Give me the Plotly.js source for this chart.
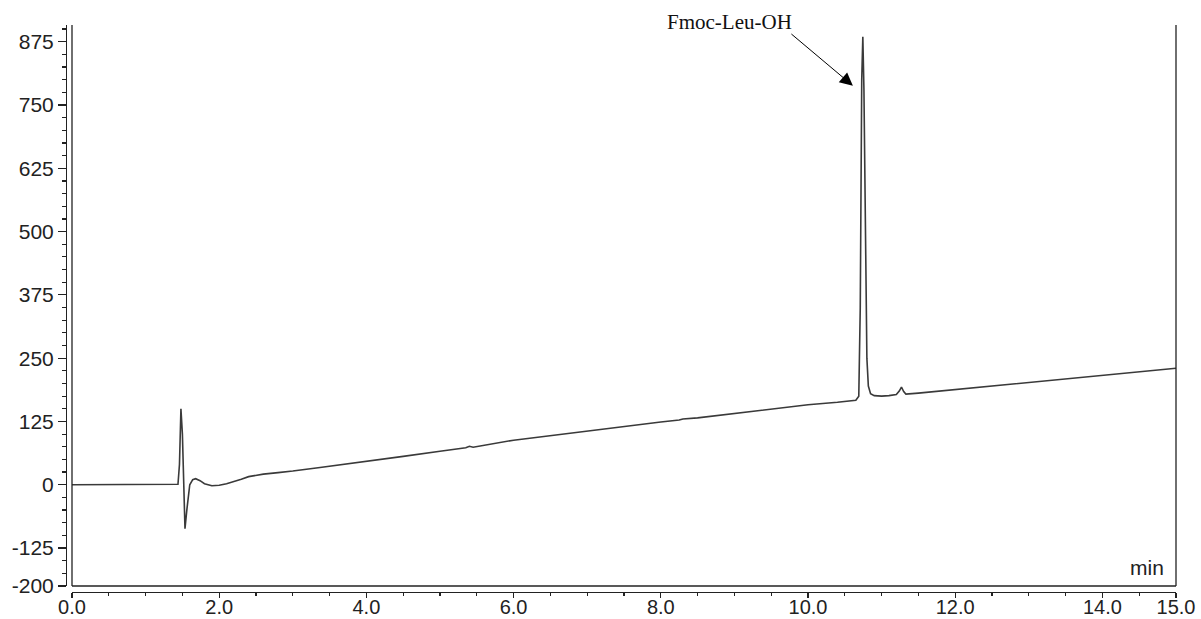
<!DOCTYPE html>
<html>
<head>
<meta charset="utf-8">
<script src="https://cdn.plot.ly/plotly-3.0.1.min.js"></script>
<style>html,body{margin:0;padding:0;background:#fff;}#chart{width:1201px;height:619px;}</style>
</head>
<body>
<div id="chart"></div>
<script>
// Retention time (min)
const timeMin = [0.0, 0.5, 1.0, 1.3, 1.44, 1.46, 1.48, 1.50, 1.52, 1.535, 1.56, 1.60, 1.64, 1.68, 1.74, 1.80, 1.90, 2.00, 2.10, 2.20, 2.30, 2.40, 2.50, 2.60, 2.80, 3.00, 3.37, 4.0, 4.5, 5.0, 5.35, 5.40, 5.45, 6.0, 6.5, 7.0, 7.5, 8.0, 8.25, 8.3, 8.5, 9.0, 9.5, 10.0, 10.4, 10.65, 10.69, 10.71, 10.73, 10.745, 10.76, 10.78, 10.80, 10.82, 10.85, 10.9, 11.0, 11.1, 11.2, 11.24, 11.27, 11.30, 11.33, 11.5, 12.0, 12.5, 13.0, 13.5, 14.0, 14.5, 15.0];
// Detector signal (mAU)
const signal = [0, 0.5, 0, 0, 1, 40, 150, 100, -30, -87, -50, 0, 10, 12, 8, 2, -2, -1, 2, 6, 11, 16, 19, 21, 24, 27, 34, 47, 56, 66, 73, 76, 74, 88, 97, 107, 115, 124, 128, 130, 132, 141, 150, 158, 163, 167, 175, 350, 800, 885, 780, 450, 250, 195, 180, 176, 175, 176, 178, 185, 193, 184, 179, 181, 188, 195, 203, 210, 216, 223, 230];
// Axis ticks
const xTickVals = [0, 2, 4, 6, 8, 10, 12, 14, 15];
const xTickText = ["0.0", "2.0", "4.0", "6.0", "8.0", "10.0", "12.0", "14.0", "15.0"];
const yTickVals = [-200, -125, 0, 125, 250, 375, 500, 625, 750, 875];
const yTickText = ["-200", "-125", "0", "125", "250", "375", "500", "625", "750", "875"];
// Peak label
const peakLabel = "Fmoc-Leu-OH";
const peakArrowTip = [10.61, 788];
const labelPos = [8.94];

const W = 1201 - 66 - 25;
const H = 619 - 25 - 27;
const tickFont = {family: "Liberation Sans, Arial, sans-serif", size: 21, color: "#222"};
const xTickFont = {family: "Liberation Sans, Arial, sans-serif", size: 20, color: "#222"};

const trace = {
  x: timeMin, y: signal, type: "scatter", mode: "lines",
  line: {color: "#3a3a3a", width: 1.6}, hoverinfo: "skip"
};

const frameLine = {color: "#222", width: 1.3};
const layout = {
  width: 1201, height: 619,
  margin: {l: 66, r: 25, t: 25, b: 27, pad: 0},
  paper_bgcolor: "#fff", plot_bgcolor: "#fff",
  showlegend: false,
  xaxis: {
    domain: [6 / W, 1], anchor: "free", position: 0,
    range: [0, 15], showgrid: false, zeroline: false,
    showline: true, linecolor: "#222", linewidth: 1.3,
    ticks: "outside", ticklen: 5, tickcolor: "#222", tickwidth: 1.2,
    tickmode: "array", tickvals: xTickVals, ticktext: xTickText,
    tickfont: xTickFont, ticklabelstandoff: -8,
    minor: {dtick: 0.5, tick0: 0, ticks: "outside", ticklen: 3, tickcolor: "#222", tickwidth: 1.2, showgrid: false}
  },
  yaxis: {
    domain: [6 / H, 1], anchor: "free", position: 0,
    range: [-200, 908], showgrid: false, zeroline: false,
    showline: true, linecolor: "#222", linewidth: 1.3,
    ticks: "outside", ticklen: 8, tickcolor: "#222", tickwidth: 1.2,
    tickmode: "array", tickvals: yTickVals, ticktext: yTickText,
    tickfont: tickFont,
    minor: {dtick: 25, tick0: 0, ticks: "outside", ticklen: 4, tickcolor: "#222", tickwidth: 1.2, showgrid: false}
  },
  shapes: [
    {type: "line", xref: "x domain", yref: "y domain", x0: 0, x1: 0, y0: 0, y1: 1, line: frameLine},
    {type: "line", xref: "x domain", yref: "y domain", x0: 0, x1: 1, y0: 0, y1: 0, line: frameLine},
    {type: "line", xref: "x domain", yref: "y domain", x0: 1, x1: 1, y0: 0, y1: 1, line: frameLine}
  ],
  annotations: [
    {x: peakArrowTip[0], y: peakArrowTip[1], xref: "x", yref: "y", text: "", showarrow: true,
     ax: -63, ay: -53, arrowhead: 2, arrowsize: 2.6, arrowwidth: 1, arrowcolor: "#000"},
    {x: labelPos[0], xref: "x", y: 1.005, yref: "paper", yanchor: "middle", xanchor: "center",
     text: peakLabel, showarrow: false,
     font: {family: "Liberation Serif, Times New Roman, serif", size: 21, color: "#111"}},
    {x: 1, xref: "x domain", y: 0, yref: "y domain", xanchor: "right", yanchor: "bottom",
     xshift: -10, yshift: 5, text: "min", showarrow: false, font: tickFont}
  ]
};

Plotly.newPlot("chart", [trace], layout, {displayModeBar: false, staticPlot: true});
</script>
</body>
</html>
